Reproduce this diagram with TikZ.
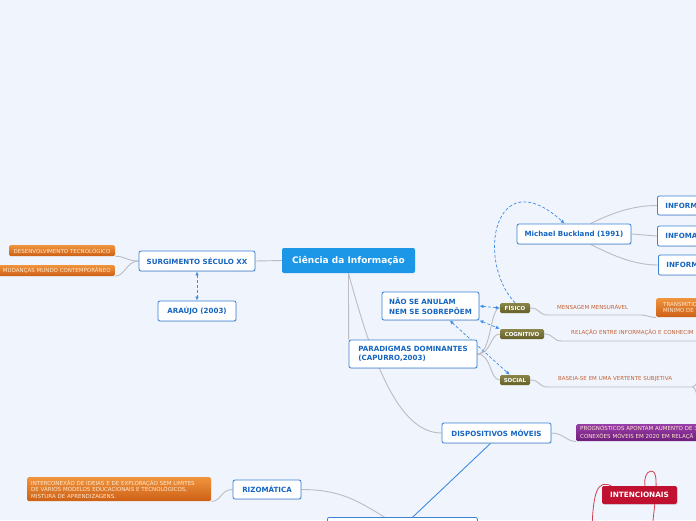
\documentclass[tikz,border=0pt]{standalone}
\usepackage{fontspec}
\setmainfont{DejaVu Sans}
\usetikzlibrary{arrows.meta,shadows}
\pgfdeclarelayer{bg}
\pgfsetlayers{bg,main}

\definecolor{fundo}{RGB}{240,244,252}
\definecolor{azulcentro}{RGB}{28,150,230}
\definecolor{azulborda}{RGB}{58,130,215}
\definecolor{azultexto}{RGB}{21,101,192}
\definecolor{azultraco}{RGB}{60,140,230}
\definecolor{laranja1}{RGB}{240,148,62}
\definecolor{laranja2}{RGB}{205,96,22}
\definecolor{creme}{RGB}{255,232,205}
\definecolor{oliva1}{RGB}{138,133,72}
\definecolor{oliva2}{RGB}{100,96,40}
\definecolor{roxo1}{RGB}{152,62,168}
\definecolor{roxo2}{RGB}{110,30,125}
\definecolor{vermelho}{RGB}{192,18,48}
\definecolor{linhavermelha}{RGB}{212,62,84}
\definecolor{marrom}{RGB}{196,98,56}
\definecolor{cinza}{RGB}{188,188,194}

\begin{document}
\begin{tikzpicture}[x=1pt,y=-1pt,>={Latex[length=4pt,width=3.5pt]},
    central/.style={fill=azulcentro, rounded corners=2pt, text=white,
        font=\fontsize{9}{10}\selectfont\bfseries, inner sep=0pt,
        minimum width=133pt, minimum height=25pt},
    topico/.style={draw=azulborda, line width=0.8pt, fill=white, rounded corners=2pt,
        text=azultexto, font=\fontsize{7.1}{9.5}\selectfont\bfseries, align=left,
        inner sep=0pt, drop shadow={shadow xshift=0.7pt, shadow yshift=-0.9pt, opacity=0.2}},
    folha/.style={rounded corners=1.5pt, top color=laranja1, bottom color=laranja2,
        text=creme, font=\fontsize{5.5}{6.5}\selectfont, align=left, inner sep=0pt},
    oliva/.style={rounded corners=1.5pt, top color=oliva1, bottom color=oliva2,
        text=white, font=\fontsize{5.5}{6.5}\selectfont\bfseries, inner sep=0pt},
    roxo/.style={rounded corners=1.5pt, top color=roxo1, bottom color=roxo2,
        text=creme, font=\fontsize{5.5}{7.5}\selectfont, align=left, inner sep=0pt},
    alerta/.style={fill=vermelho, rounded corners=2pt, text=white,
        font=\fontsize{7.3}{9}\selectfont\bfseries, inner sep=0pt,
        drop shadow={shadow xshift=0.7pt, shadow yshift=-0.9pt, opacity=0.2}},
    rotulo/.style={text=marrom, font=\fontsize{5.5}{6.5}\selectfont, anchor=south west,
        align=left, inner ysep=5pt},
    ligacao/.style={draw=cinza, line width=0.9pt},
    tracejado/.style={draw=azultraco, line width=0.7pt, dash pattern=on 3pt off 2pt},
]
    \useasboundingbox (0,0) rectangle (696,520);
    \clip (0,0) rectangle (696,520);

    % Nodes
    % centro
    \node[central] (cdi) at (348.5,260.5) {Ciência da Informação};

    % ramo esquerdo
    \node[topico, minimum width=116pt, minimum height=20pt] (surg) at (197,261) {SURGIMENTO SÉCULO XX};
    \node[topico, minimum width=78pt, minimum height=20pt] (araujo) at (197,311) {ARAÚJO (2003)};
    \node[folha, minimum width=106pt, minimum height=11pt] (desenv) at (62,250.5) {DESENVOLVIMENTO TECNOLÓGICO};
    \node[folha, anchor=east, minimum width=116pt, minimum height=11pt] (mudanca) at (115,270.5) {MUDANÇAS MUNDO CONTEMPORÂNEO};

    % paradigmas
    \node[topico, minimum width=128pt, minimum height=28pt] (parad) at (413,354) {PARADIGMAS DOMINANTES\\(CAPURRO,2003)};
    \node[topico, minimum width=97pt, minimum height=28pt] (nao) at (430.5,306) {NÃO SE ANULAM\\NEM SE SOBREPÕEM};
    \node[oliva, minimum width=30pt, minimum height=10pt] (fisico) at (515,308) {FÍSICO};
    \node[oliva, minimum width=44pt, minimum height=10pt] (cognit) at (522,334) {COGNITIVO};
    \node[oliva, minimum width=30pt, minimum height=10pt] (social) at (515,380) {SOCIAL};

    % Buckland
    \node[topico, minimum width=114pt, minimum height=20pt] (buck) at (574,234) {Michael Buckland (1991)};
    \node[topico, anchor=west, text width=60pt, inner xsep=8pt, minimum height=19pt] (inf1) at (657,205.5) {INFORM};
    \node[topico, anchor=west, text width=60pt, inner xsep=8pt, minimum height=20pt] (inf2) at (657,236) {INFOMA};
    \node[topico, anchor=west, text width=60pt, inner xsep=8pt, minimum height=20pt] (inf3) at (658,265) {INFORM};

    % rotulos
    \node[rotulo, text width=74pt, inner xsep=9pt] (msg) at (548,315) {MENSAGEM MENSURÁVEL};
    \node[folha, anchor=north west, text width=60pt, inner xsep=7pt, minimum height=19pt] (transm) at (656,298) {TRANSMITID\\MÍNIMO DE D};
    \node[rotulo, text width=150pt, inner xsep=9pt] (rel) at (562,341) {RELAÇÃO ENTRE INFORMAÇÃO E CONHECIM};
    \node[rotulo, text width=124pt, inner xsep=10pt] (soc) at (548,387) {BASEIA-SE EM UMA VERTENTE SUBJETIVA};

    % dispositivos
    \node[topico, minimum width=109pt, minimum height=20pt] (disp) at (496.5,433) {DISPOSITIVOS MÓVEIS};
    \node[roxo, anchor=north west, text width=200pt, inner xsep=4pt, minimum height=17pt] (prog) at (576,424) {PROGNÓSTICOS APONTAM AUMENTO DE 3\\CONEXÕES MÓVEIS EM 2020 EM RELAÇÃ};
    \node[topico, anchor=north west, minimum width=150pt, minimum height=20pt] (bot) at (327,517) {};

    % rizomatica
    \node[topico, minimum width=68pt, minimum height=19pt] (rizom) at (267,489.5) {RIZOMÁTICA};
    \node[folha, anchor=north west, text width=176pt, inner xsep=4pt, minimum height=24pt] (interc) at (27,477) {INTERCONEXÃO DE IDEIAS E DE EXPLORAÇÃO SEM LIMITES\\DE VÁRIOS MODELOS EDUCACIONAIS E TECNOLÓGICOS,\\MISTURA DE APRENDIZAGENS.};
    \node[alerta, minimum width=75pt, minimum height=18pt] (intenc) at (639.5,495) {INTENCIONAIS};

    % free ends (off the page)
    \coordinate (socup) at (702,372);
    \coordinate (socdn) at (700,414);
    \coordinate (redA) at (592,530);
    \coordinate (redB) at (652,530);

    % Edges
    \begin{pgfonlayer}{bg}
    \clip (0,0) rectangle (696,520);
    \fill[fundo] (0,0) rectangle (696,520);

    \draw[ligacao] (cdi.west) -- (surg.east);
    \draw[ligacao] (surg.west) .. controls +(-12,0) and +(10,0) .. (desenv.south east);
    \draw[ligacao] (surg.west) .. controls +(-12,0) and +(10,0) .. (mudanca.south east);
    \draw[tracejado,<->] (surg.south) -- (araujo.north);

    \draw[ligacao] (cdi.south) -- (parad.north west);
    \draw[ligacao] (cdi.south) .. controls (372,360) and (398,433) .. (disp.west);

    \draw[ligacao] (parad.east) .. controls +(14,0) and +(-10,0) .. (fisico.west);
    \draw[ligacao] (parad.east) .. controls +(14,0) and +(-10,0) .. (cognit.west);
    \draw[ligacao] (parad.east) .. controls +(14,0) and +(-10,0) .. (social.west);

    \draw[tracejado,<->] (nao.east) -- (fisico.west);
    \draw[tracejado,<->] (nao.south east) -- (cognit.north west);
    \draw[tracejado,<->] (nao.-37) -- (social.135);
    \draw[tracejado,->] (fisico.north) .. controls (475,260) and (495,160) .. (buck.132);

    \draw[ligacao] (buck.32) .. controls +(20,-10) and +(-25,0) .. (inf1.west);
    \draw[ligacao] (buck.east) -- (inf2.west);
    \draw[ligacao] (buck.-32) .. controls +(20,10) and +(-25,0) .. (inf3.west);

    \draw[ligacao] (fisico.east) .. controls +(10,0) and +(-10,0) .. (msg.south west)
        -- (msg.south east) .. controls +(8,0) and +(-8,0) .. (transm.south west);
    \draw[ligacao] (cognit.east) .. controls +(10,0) and +(-10,0) .. (rel.south west) -- (rel.south east);
    \draw[ligacao] (social.east) .. controls +(10,0) and +(-10,0) .. (soc.south west) -- (soc.south east)
        .. controls +(5,0) and +(-4,3) .. (socup);
    \draw[ligacao] (soc.south east) .. controls +(5,0) and +(-2,-8) .. (socdn);

    \draw[ligacao] (disp.east) .. controls +(12,0) and +(-10,0) .. (prog.south west);
    \draw[draw=azultraco, line width=0.9pt] (disp.240) -- (bot.45);

    \draw[ligacao] (rizom.east) .. controls +(40,0) and +(-25,-15) .. (bot.150);
    \draw[ligacao] (rizom.west) .. controls +(-12,0) and +(10,0) .. (interc.south east);

    \draw[linhavermelha, line width=0.8pt] (redA) .. controls (593,490) and (598,480) .. (intenc.162);
    \draw[linhavermelha, line width=0.8pt] (redB) .. controls (655,500) and (660,470) .. (651,471)
        .. controls (646,472) and (644,478) .. (intenc.59);
    \end{pgfonlayer}

\end{tikzpicture}
\end{document}
